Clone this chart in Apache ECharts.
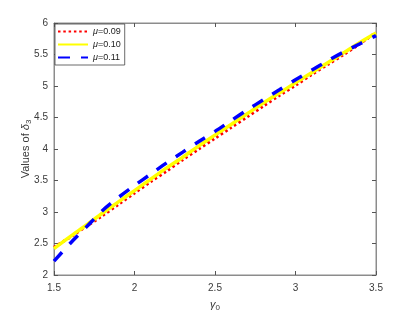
<!DOCTYPE html>
<html>
<head>
<meta charset="utf-8">
<script src="https://cdn.jsdelivr.net/npm/echarts@6/dist/echarts.min.js"></script>
<style>html,body{margin:0;padding:0;background:#fff}#c{width:415px;height:312px}</style>
</head>
<body>
<div id="c"></div>
<script>
const xVals = [1.5,1.6,1.7,1.8,1.9,2.0,2.1,2.2,2.3,2.4,2.5,2.6,2.7,2.8,2.9,3.0,3.1,3.2,3.3,3.4,3.5];
const mu009 = [2.44,2.60,2.77,2.94,3.12,3.30,3.48,3.65,3.83,4.00,4.17,4.34,4.51,4.68,4.85,5.01,5.18,5.34,5.50,5.67,5.85];
const mu010 = [2.42,2.61,2.79,2.98,3.16,3.34,3.52,3.70,3.87,4.05,4.22,4.39,4.56,4.73,4.89,5.05,5.21,5.37,5.53,5.69,5.84];
const mu011 = [2.22,2.50,2.76,3.02,3.23,3.42,3.60,3.78,3.95,4.12,4.28,4.45,4.62,4.78,4.94,5.10,5.25,5.40,5.54,5.67,5.80];
const seriesNames = ['μ=0.09','μ=0.10','μ=0.11'];
const xTicks = [1.5,2,2.5,3,3.5];
const yTicks = [2,2.5,3,3.5,4,4.5,5,5.5,6];

const pair = (ys) => xVals.map((x,i)=>[x, ys[i]]);
const fontFam = '"Liberation Sans", Arial, sans-serif';
const axisCol = '#8c8c8c';
const labCol = '#3a3a3a';

const chart = echarts.init(document.getElementById('c'), null, {renderer:'canvas'});
const baseX = {
  type:'value', min:xTicks[0], max:xTicks[xTicks.length-1], interval:0.5,
  axisLine:{show:true, onZero:false, lineStyle:{color:axisCol, width:1}},
  axisTick:{show:true, inside:true, length:4, lineStyle:{color:'#555'}},
  splitLine:{show:false}
};
const baseY = {
  type:'value', min:yTicks[0], max:yTicks[yTicks.length-1], interval:0.5,
  axisLine:{show:true, onZero:false, lineStyle:{color:axisCol, width:1}},
  axisTick:{show:true, inside:true, length:4, lineStyle:{color:'#555'}},
  splitLine:{show:false}
};
chart.setOption({
  animation:false,
  backgroundColor:'#fff',
  textStyle:{fontFamily:fontFam},
  grid:{left:54, right:39, top:23, bottom:37, show:true, borderColor:axisCol, borderWidth:1, backgroundColor:'transparent', containLabel:false, outerBoundsMode:'none'},
  legend:{
    data:seriesNames, left:55, top:24, orient:'vertical',
    backgroundColor:'#fff', borderColor:'#444', borderWidth:0.8,
    padding:[3,4,3,2], itemGap:4, itemWidth:30, itemHeight:9,
    itemStyle:{opacity:0},
    formatter:(n)=>'{i|μ}' + n.slice(1),
    textStyle:{fontSize:9, color:'#222', fontFamily:fontFam, rich:{i:{fontStyle:'italic', fontSize:9, fontFamily:fontFam}}}
  },
  xAxis:[
    Object.assign({}, baseX, {
      position:'bottom',
      axisLabel:{color:labCol, fontSize:10, margin:8, fontFamily:fontFam, formatter:(v)=>String(v)},
      name:'{g|γ}{s|0}', nameLocation:'middle', nameGap:23, nameMoveOverlap:false,
      nameTextStyle:{rich:{g:{fontStyle:'italic', fontSize:11, color:labCol, fontFamily:fontFam}, s:{fontSize:8, color:labCol, verticalAlign:'bottom', padding:[6,0,0,0], fontFamily:fontFam}}}
    }),
    Object.assign({}, baseX, {position:'top', axisLabel:{show:false}})
  ],
  yAxis:[
    Object.assign({}, baseY, {
      position:'left',
      axisLabel:{color:labCol, fontSize:10, margin:6, fontFamily:fontFam, formatter:(v)=>String(v)},
      name:'{t|Values of }{g|δ}{s|3}', nameLocation:'middle', nameGap:21, nameRotate:90, nameMoveOverlap:false,
      nameTextStyle:{rich:{t:{fontSize:11, color:labCol, fontFamily:fontFam}, g:{fontStyle:'italic', fontSize:11, color:labCol, fontFamily:fontFam}, s:{fontSize:8, color:labCol, padding:[6,0,0,0], fontFamily:fontFam}}}
    }),
    Object.assign({}, baseY, {position:'right', axisLabel:{show:false}})
  ],
  series:[
    {name:seriesNames[0], type:'line', data:pair(mu009), symbol:'none', smooth:0.3, xAxisIndex:0, yAxisIndex:0,
     lineStyle:{color:'#ff0000', width:3, type:[2.5,2.8], cap:'butt'}, itemStyle:{color:'#ff0000'}, z:2},
    {name:seriesNames[1], type:'line', data:pair(mu010), symbol:'none', smooth:0.3, xAxisIndex:0, yAxisIndex:0,
     lineStyle:{color:'#ffff00', width:3.5, type:'solid'}, itemStyle:{color:'#ffff00'}, z:3},
    {name:seriesNames[2], type:'line', data:pair(mu011), symbol:'none', smooth:0.3, xAxisIndex:0, yAxisIndex:0,
     lineStyle:{color:'#0000ff', width:3.5, type:[12,11], cap:'butt'}, itemStyle:{color:'#0000ff'}, z:4}
  ]
});
</script>
</body>
</html>
